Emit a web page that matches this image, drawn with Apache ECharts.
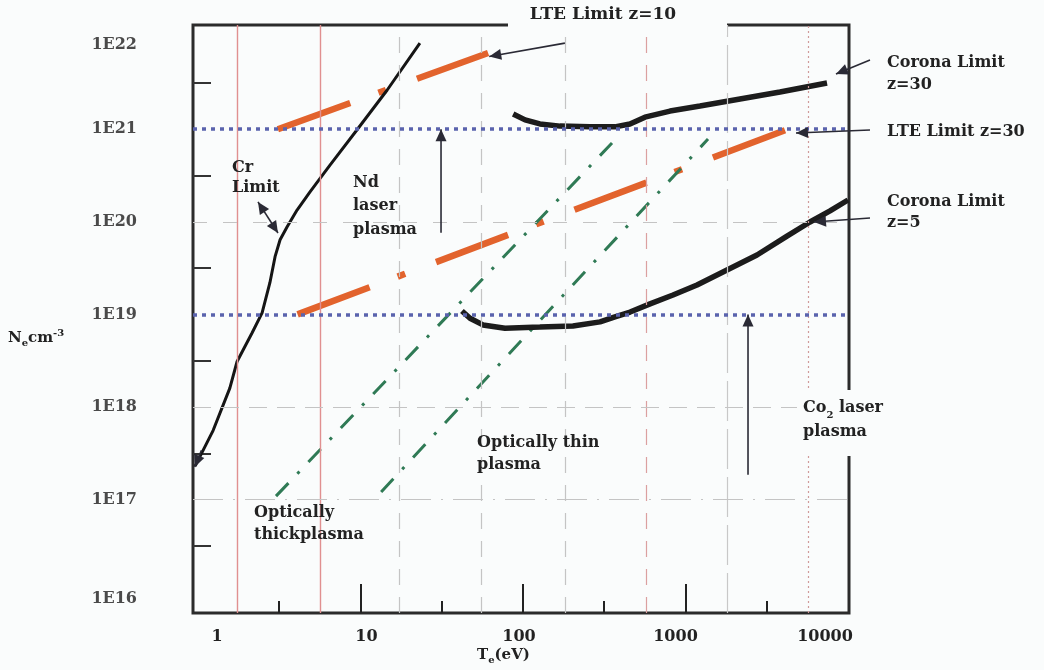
<!DOCTYPE html>
<html>
<head>
<meta charset="utf-8">
<title>Plasma regimes: electron density vs temperature</title>
<script src="https://cdn.jsdelivr.net/npm/echarts@6/dist/echarts.min.js"></script>
<style>
  html, body { margin: 0; padding: 0; background: #fafcfc; }
  #chart { width: 1044px; height: 670px; }
</style>
</head>
<body>
<div id="chart"></div>
<script>
// ---- data: electron temperature T_e (eV), electron density N_e (cm^-3) ----
const crLimit = [
  [0.96, 2.3e17], [1.24, 5.6e17], [1.57, 1.6e18], [1.74, 3.1e18], [1.97, 4.7e18],
  [2.15, 6.3e18], [2.48, 1.04e19], [2.77, 2.2e19], [2.98, 4.2e19], [3.2, 6.4e19],
  [3.53, 8.8e19], [4.07, 1.34e20], [4.89, 2.1e20], [6.49, 4.1e20], [9.5, 9.8e20],
  [14.6, 2.65e21], [23.2, 8.5e21]
];
const coronaZ30 = [
  [87, 1.46e21], [103, 1.26e21], [127, 1.14e21], [169, 1.08e21], [258, 1.06e21],
  [368, 1.06e21], [455, 1.14e21], [563, 1.35e21], [803, 1.57e21], [1228, 1.78e21],
  [2165, 2.12e21], [3815, 2.52e21], [7430, 3.16e21]
];
const coronaZ5 = [
  [42.1, 1.09e19], [47.2, 9.1e18], [56.7, 7.7e18], [77.5, 7.1e18], [127, 7.3e18],
  [203, 7.5e18], [298, 8.3e18], [368, 9.4e18], [456, 1.06e19], [605, 1.30e19],
  [838, 1.62e19], [1177, 2.08e19], [1800, 3.02e19], [2754, 4.38e19], [4213, 7.0e19],
  [5837, 9.95e19], [7749, 1.31e20], [10000, 1.72e20]
];
const lteZ10 = [[3.1, 1e21], [61, 6.65e21]];
const lteZ30 = [[4.1, 1e19], [4270, 1e21]];
const thickBoundary = [[3.02, 1.09e17], [353, 7.1e20]];
const thinBoundary = [[13.4, 1.21e17], [1376, 7.83e20]];
const laserDensities = [1e21, 1e19];          // Nd laser and CO2 laser plasma densities

// ---- axes ----
const xTickLabels = [1, 10, 100, 1000, 10000];
const yTickLabels = [1e16, 1e17, 1e18, 1e19, 1e20, 1e21, 1e22];
const xMajorTicks = [10, 100, 1000];
const xMinorTicks = [3.162, 31.62, 316.2, 3162];
const yTicks = [3.162e16, 3.162e17, 3.162e18, 3.162e19, 3.162e20, 3.162e21];
const vRefLines = [1.74, 5.63, 17.3, 55.2, 181, 571, 1800, 5670];
const hRefLines = [1e20, 1e18, 1e17];

// ---- annotation arrows (data units) ----
const arrows = [
  { from: [181, 8.5e21], to: [62, 6.1e21], heads: 'end' },          // LTE Limit z=10
  { from: [13656, 5.59e21], to: [8433, 3.95e21], heads: 'end' },    // Corona Limit z=30
  { from: [13656, 9.8e20], to: [4786, 9.1e20], heads: 'end' },      // LTE Limit z=30
  { from: [13656, 1.1e20], to: [6177, 9.95e19], heads: 'end' },     // Corona Limit z=5
  { from: [2.34, 1.64e20], to: [3.106, 7.57e19], heads: 'both' },   // Cr Limit
  { from: [31.3, 7.6e19], to: [31.3, 1e21], heads: 'end' },         // Nd laser plasma
  { from: [2425, 1.85e17], to: [2425, 1e19], heads: 'end' },        // CO2 laser plasma
  { from: [1.05, 3.4e17], to: [0.955, 2.25e17], heads: 'end' }      // start of Cr limit
];

const X_MIN = 0.9316, X_MAX = 10143;
const Y_MIN = 5.962e15, Y_MAX = 1.3346e22;

const FONT = '"DejaVu Serif", "Liberation Serif", serif';
const BG = '#fafcfc';
const INK = '#222';

// nudges of the tick labels
const xLabelShift = { 1: 19, 10: 6, 100: -4, 1000: -10, 10000: -23 };
const yLabelShift = { 22: 8, 16: 7 };

const xRich = {};
xTickLabels.forEach(function (v) {
  const s = xLabelShift[v] || 0;
  xRich['t' + v] = {
    fontFamily: FONT, fontWeight: 'bold', fontSize: 16, color: INK,
    padding: s >= 0 ? [0, 0, 0, 2 * s] : [0, -2 * s, 0, 0]
  };
});
const yRich = {};
yTickLabels.forEach(function (v) {
  const e = Math.round(Math.log10(v));
  const s = yLabelShift[e] || 0;
  yRich['e' + e] = {
    fontFamily: FONT, fontWeight: 'bold', fontSize: 16, color: '#4a4a4a',
    padding: s >= 0 ? [2 * s, 0, 0, 0] : [0, 0, -2 * s, 0]
  };
});

const chart = echarts.init(document.getElementById('chart'), null, { renderer: 'canvas' });

function curve(name, data, lineStyle, z) {
  return {
    type: 'line', name: name, data: data, symbol: 'none', showSymbol: false,
    smooth: false, z: z, silent: true, lineStyle: lineStyle
  };
}

const orangeStyle = { color: '#e2632d', width: 6.5, type: [77, 30, 8, 33], cap: 'butt' };
const greenStyle = { color: '#2f7a55', width: 3, type: [18, 13, 3, 13], cap: 'butt' };

const refLineStyles = [
  { color: '#e09090', width: 1.4, type: 'solid' },
  { color: '#e09090', width: 1.4, type: 'solid' },
  { color: '#c4c4c4', width: 1.2, type: [16, 12] },
  { color: '#c4c4c4', width: 1.2, type: [16, 12] },
  { color: '#c4c4c4', width: 1.2, type: [16, 12] },
  { color: '#dba0a0', width: 1.2, type: [16, 12] },
  { color: '#c8c8c8', width: 1.2, type: [40, 8] },
  { color: '#d09a9a', width: 1.2, type: [2, 3] }
];
const hRefStyles = [
  { color: '#c4c4c4', width: 1.2, type: [14, 16] },
  { color: '#c4c4c4', width: 1.2, type: [18, 10] },
  { color: '#c4c4c4', width: 1.2, type: [30, 10, 2, 10] }
];

const option = {
  animation: false,
  backgroundColor: BG,
  grid: {
    left: 193, top: 25, width: 656, height: 588,
    show: true, borderColor: '#2b2b2b', borderWidth: 3, backgroundColor: 'transparent',
    containLabel: false, outerBoundsMode: 'none'
  },
  xAxis: [
    {
      type: 'log', logBase: 10, min: X_MIN, max: X_MAX, position: 'bottom',
      axisLine: { show: false },
      axisTick: { show: true, inside: true, length: 29, customValues: xMajorTicks,
                  lineStyle: { color: INK, width: 2 } },
      minorTick: { show: false },
      splitLine: { show: false },
      axisLabel: {
        show: true, margin: 16, customValues: xTickLabels,
        formatter: function (v) {
          const k = Math.round(v);
          return '{t' + k + '|' + k + '}';
        },
        rich: xRich
      }
    },
    {
      type: 'log', logBase: 10, min: X_MIN, max: X_MAX, position: 'bottom',
      axisLine: { show: false },
      axisTick: { show: true, inside: true, length: 12, customValues: xMinorTicks,
                  lineStyle: { color: INK, width: 2 } },
      minorTick: { show: false },
      splitLine: { show: false },
      axisLabel: { show: false }
    }
  ],
  yAxis: {
    type: 'log', logBase: 10, min: Y_MIN, max: Y_MAX,
    axisLine: { show: false },
    axisTick: { show: true, inside: true, length: 18, customValues: yTicks,
                lineStyle: { color: '#333', width: 2 } },
    minorTick: { show: false },
    splitLine: { show: false },
    axisLabel: {
      show: true, margin: 56, customValues: yTickLabels,
      formatter: function (v) {
        const e = Math.round(Math.log10(v));
        return '{e' + e + '|1E' + e + '}';
      },
      rich: yRich
    }
  },
  series: [
    {
      type: 'line', name: 'grid', data: [], z: 1, silent: true,
      markLine: {
        silent: true, symbol: ['none', 'none'], label: { show: false }, animation: false,
        data: vRefLines.map(function (v, i) { return { xAxis: v, lineStyle: refLineStyles[i] }; })
          .concat(hRefLines.map(function (v, i) { return { yAxis: v, lineStyle: hRefStyles[i] }; }))
      }
    },
    curve('Cr Limit', crLimit, { color: '#151515', width: 3 }, 4),
    curve('Corona Limit z=30', coronaZ30, { color: '#1c1c1c', width: 5.5 }, 4),
    curve('Corona Limit z=5', coronaZ5, { color: '#1c1c1c', width: 5.5 }, 4),
    curve('LTE Limit z=10', lteZ10, orangeStyle, 3),
    curve('LTE Limit z=30', lteZ30, orangeStyle, 3),
    curve('Optically thick boundary', thickBoundary, greenStyle, 3),
    curve('Optically thin boundary', thinBoundary, greenStyle, 3),
    {
      type: 'line', name: 'laser densities', data: [], z: 5, silent: true,
      markLine: {
        silent: true, symbol: ['none', 'none'], label: { show: false }, animation: false,
        lineStyle: { color: '#5a63ad', width: 3.5, type: [4, 5], cap: 'butt' },
        data: laserDensities.map(function (v) { return { yAxis: v }; })
      }
    }
  ]
};

chart.setOption(option);

// ---- annotations: arrows placed through the axes, and text labels ----
function toPx(p) { return chart.convertToPixel({ seriesIndex: 1 }, p); }

function headPolygon(tip, tail, len, half) {
  const dx = tip[0] - tail[0], dy = tip[1] - tail[1];
  const d = Math.sqrt(dx * dx + dy * dy) || 1;
  const ux = dx / d, uy = dy / d;
  const bx = tip[0] - ux * len, by = tip[1] - uy * len;
  return [[tip[0], tip[1]], [bx - uy * half, by + ux * half], [bx + uy * half, by - ux * half]];
}

const elements = [];
arrows.forEach(function (a) {
  const p0 = toPx(a.from), p1 = toPx(a.to);
  elements.push({
    type: 'line', silent: true, z: 20,
    shape: { x1: p0[0], y1: p0[1], x2: p1[0], y2: p1[1] },
    style: { stroke: '#2a2a35', lineWidth: 1.6 }
  });
  elements.push({
    type: 'polygon', silent: true, z: 21,
    shape: { points: headPolygon(p1, p0, 12, 5.5) },
    style: { fill: '#2a2a35' }
  });
  if (a.heads === 'both') {
    elements.push({
      type: 'polygon', silent: true, z: 21,
      shape: { points: headPolygon(p0, p1, 12, 5.5) },
      style: { fill: '#2a2a35' }
    });
  }
});

function label(x, y, text, lh, extra) {
  const style = {
    text: text, x: 0, y: 0, fill: INK, align: 'left', verticalAlign: 'top',
    font: 'bold 16px ' + FONT, lineHeight: lh
  };
  if (extra) Object.assign(style, extra);
  return { type: 'text', x: x, y: y, z: 30, silent: true, style: style };
}

const smallFont = { fontFamily: FONT, fontWeight: 'bold', fill: INK };

elements.push(
  // boxes that interrupt the frame behind two labels
  { type: 'rect', z: 25, silent: true, shape: { x: 508, y: 5, width: 219, height: 30 }, style: { fill: BG } },
  { type: 'rect', z: 25, silent: true, shape: { x: 797, y: 390, width: 102, height: 66 }, style: { fill: BG } },
  {
    type: 'text', x: 603, y: 15, z: 30, silent: true,
    style: { text: 'LTE Limit z=10', fill: INK, align: 'center', verticalAlign: 'middle',
             font: 'bold 17px ' + FONT }
  },
  label(232, 158, 'Cr\nLimit', 20),
  label(353, 171, 'Nd\nlaser\nplasma', 23.5),
  label(477, 432, 'Optically thin\nplasma', 22),
  label(254, 502, 'Optically\nthickplasma', 22),
  label(887, 52, 'Corona Limit\nz=30', 22),
  label(887, 121, 'LTE Limit z=30', 22),
  label(887, 191, 'Corona Limit\nz=5', 21),
  label(803, 396, 'Co{sub|2} laser\nplasma', 24, {
    rich: { sub: Object.assign({ fontSize: 10, verticalAlign: 'bottom', lineHeight: 14 }, smallFont) }
  }),
  label(8, 328, 'N{sub|e}cm{sup|-3}', 20, {
    font: 'bold 15px ' + FONT,
    rich: {
      sub: Object.assign({ fontSize: 10, verticalAlign: 'bottom', lineHeight: 10 }, smallFont),
      sup: Object.assign({ fontSize: 10, verticalAlign: 'top', lineHeight: 10 }, smallFont)
    }
  }),
  label(477, 645, 'T{sub|e}(eV)', 20, {
    font: 'bold 15px ' + FONT,
    rich: { sub: Object.assign({ fontSize: 10, verticalAlign: 'bottom', lineHeight: 10 }, smallFont) }
  })
);

chart.setOption({ graphic: { elements: elements } });
</script>
</body>
</html>
